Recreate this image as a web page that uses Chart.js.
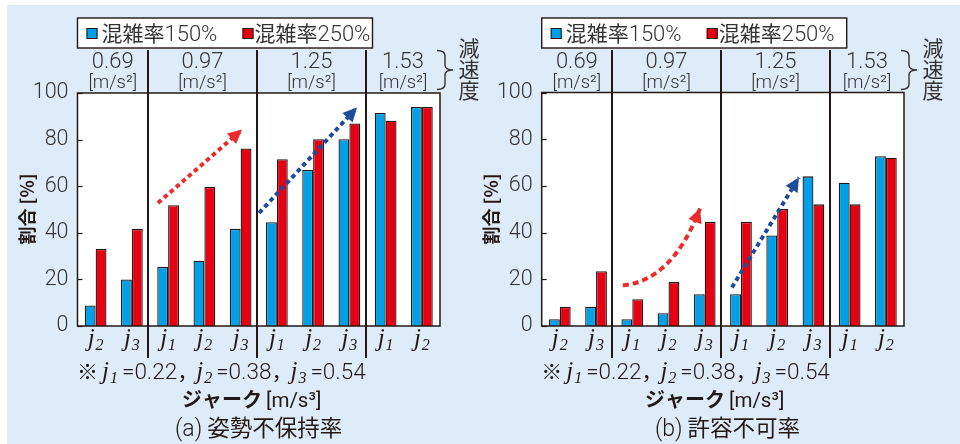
<!DOCTYPE html>
<html>
<head>
<meta charset="utf-8">
<script src="https://cdn.jsdelivr.net/npm/chart.js@4.4.1/dist/chart.umd.min.js"></script>
<style>
  html, body { margin: 0; padding: 0; background: #ffffff; }
  #wrap { position: relative; width: 960px; height: 444px; overflow: hidden; }
  #panel { position: absolute; left: 7px; top: 5px; right: 0; bottom: 0; background: #deebf8; }
  canvas { position: absolute; top: 0; }
</style>
</head>
<body>
<div id="wrap">
  <div id="panel"></div>
  <canvas id="chartA" width="480" height="444" style="left:0"></canvas>
  <canvas id="chartB" width="480" height="444" style="left:480px"></canvas>
</div>
<script>
// ---- data ----
const jerkSubscripts = [2, 3, 1, 2, 3, 1, 2, 3, 1, 2];
const categories = jerkSubscripts.map(n => 'j' + n);
const decelValues = ['0.69', '0.97', '1.25', '1.53'];
const decelGroupSizes = [2, 3, 3, 2];
const jerkDefs = [['1', '0.22'], ['2', '0.38'], ['3', '0.54']];
const seriesNames = ['混雑率150%', '混雑率250%'];
const yTickValues = [0, 20, 40, 60, 80, 100];

// (a) 姿勢不保持率 [%]
const postureLoss150 = [8.8, 20.0, 25.3, 28.0, 41.7, 44.5, 67.0, 80.2, 91.4, 94.0];
const postureLoss250 = [33.1, 41.7, 51.8, 59.7, 76.2, 71.6, 80.2, 86.9, 88.1, 94.0];
// (b) 許容不可率 [%]
const rejection150 = [2.9, 8.2, 2.9, 5.5, 13.6, 13.6, 38.8, 64.1, 61.4, 72.7];
const rejection250 = [8.2, 23.5, 11.5, 18.8, 44.6, 44.6, 50.1, 52.1, 52.1, 72.1];

// ---- style ----
const SANS = '"Roboto", "Liberation Sans", sans-serif';
const CJK = '"Noto Sans CJK JP", sans-serif';
const SERIF = '"Liberation Serif", "DejaVu Serif", serif';
const INK = '#231815';
const BLUE = '#00a0e9';
const RED = '#e60012';
const Y_AXIS_W = 50;

function text(ctx, s, x, y, font, align, color) {
  ctx.font = font;
  ctx.textAlign = align || 'left';
  ctx.textBaseline = 'alphabetic';
  ctx.fillStyle = color || INK;
  ctx.fillText(s, x, y);
  return ctx.measureText(s).width;
}

// italic j with a subscript digit; returns the drawn width
function jerkSymbol(ctx, n, x, baseY, size, centered) {
  ctx.font = `italic ${size}px ${SERIF}`;
  const wj = ctx.measureText('j').width;
  const sub = Math.round(size * 0.62);
  ctx.font = `italic ${sub}px ${SERIF}`;
  const ws = ctx.measureText(String(n)).width;
  const w = wj + ws + 1;
  const x0 = centered ? x - w / 2 : x;
  text(ctx, 'j', x0, baseY, `italic ${size}px ${SERIF}`, 'left', INK);
  text(ctx, String(n), x0 + wj + 1, baseY + 4, `italic ${sub}px ${SERIF}`, 'left', INK);
  return w;
}

function arrowHead(ctx, tip, from, color, len, half) {
  const dx = tip[0] - from[0], dy = tip[1] - from[1];
  const d = Math.hypot(dx, dy);
  const ux = dx / d, uy = dy / d;
  const bx = tip[0] - ux * len, by = tip[1] - uy * len;
  ctx.setLineDash([]);
  ctx.fillStyle = color;
  ctx.beginPath();
  ctx.moveTo(tip[0], tip[1]);
  ctx.lineTo(bx - uy * half, by + ux * half);
  ctx.lineTo(bx + uy * half, by - ux * half);
  ctx.closePath();
  ctx.fill();
}

const overlay = {
  id: 'overlay',
  beforeDatasetsDraw(chart) {
    const { ctx, chartArea: a } = chart;
    ctx.save();
    ctx.fillStyle = '#ffffff';
    ctx.fillRect(a.left, a.top, a.right - a.left, a.bottom - a.top);
    ctx.restore();
  },
  afterDatasetsDraw(chart, args, o) {
    const { ctx, chartArea: a } = chart;
    const xs = chart.scales.x, ys = chart.scales.y;
    ctx.save();

    // plot frame
    ctx.strokeStyle = INK;
    ctx.lineWidth = 1.5;
    ctx.strokeRect(a.left, a.top, a.right - a.left, a.bottom - a.top);

    // inward tick marks
    ctx.lineWidth = 1.2;
    yTickValues.forEach(v => {
      const y = Math.round(ys.getPixelForValue(v)) + 0.5;
      ctx.beginPath();
      ctx.moveTo(a.left, y);
      ctx.lineTo(a.left + 5, y);
      ctx.stroke();
    });

    // deceleration groups: dividers and labels
    const bounds = [-0.5];
    decelGroupSizes.forEach(n => bounds.push(bounds[bounds.length - 1] + n));
    const edge = i => (i === 0 || i === bounds.length - 1)
      ? xs.getPixelForValue(bounds[i])
      : Math.round(xs.getPixelForValue(bounds[i])) - 2;
    ctx.lineWidth = 2;
    for (let i = 1; i < bounds.length - 1; i++) {
      const x = edge(i);
      ctx.beginPath();
      ctx.moveTo(x, 50);
      ctx.lineTo(x, 358);
      ctx.stroke();
    }
    decelValues.forEach((v, i) => {
      const cx = (edge(i) + edge(i + 1)) / 2;
      text(ctx, v, cx, 68, `300 22px ${SANS}`, 'center', '#333');
      text(ctx, '[m/s²]', cx, 87.5, `300 18.5px ${SANS}`, 'center', '#333');
    });

    // brace and 減速度
    const r = a.right;
    ctx.strokeStyle = '#333';
    ctx.lineWidth = 1.4;
    ctx.beginPath();
    ctx.moveTo(r - 3, 50.5);
    ctx.quadraticCurveTo(r + 5, 50.5, r + 5, 56);
    ctx.lineTo(r + 5, 65);
    ctx.quadraticCurveTo(r + 5, 70, r + 13, 70);
    ctx.quadraticCurveTo(r + 5, 70, r + 5, 75);
    ctx.lineTo(r + 5, 84);
    ctx.quadraticCurveTo(r + 5, 89.5, r - 3, 89.5);
    ctx.stroke();
    ['減', '速', '度'].forEach((c, i) => {
      text(ctx, c, r + 29, 56 + i * 21, `21px ${CJK}`, 'center', '#333');
    });

    // legend box
    ctx.fillStyle = '#ffffff';
    ctx.fillRect(a.left, 18, o.legendW, 30);
    ctx.strokeStyle = INK;
    ctx.lineWidth = 1.4;
    ctx.strokeRect(a.left, 18, o.legendW, 30);
    [[BLUE, 9, 24], [RED, 165, 177]].forEach(([col, sq, tx], i) => {
      ctx.fillStyle = col;
      ctx.fillRect(a.left + sq, 28, 11, 11);
      ctx.lineWidth = 1;
      ctx.strokeStyle = INK;
      ctx.strokeRect(a.left + sq + 0.5, 28.5, 10, 10);
      ctx.font = `21px ${CJK}`;
      text(ctx, seriesNames[i].slice(0, 3), a.left + tx, 41, `21px ${CJK}`, 'left', '#333');
      text(ctx, seriesNames[i].slice(3), a.left + tx + 63, 41, `300 22px ${SANS}`, 'left', '#333');
    });

    // jerk category labels
    jerkSubscripts.forEach((n, i) => {
      jerkSymbol(ctx, n, xs.getPixelForValue(i), 346, 25, true);
    });

    // footnote: jerk values
    let fx = a.left - 0.5;
    fx += text(ctx, '※', fx, 379, `21px ${CJK}`, 'left', INK) + 4;
    jerkDefs.forEach(([n, v], i) => {
      fx += jerkSymbol(ctx, n, fx, 379, 25, false) + 4;
      fx += text(ctx, '=' + v, fx, 379, `300 22.5px ${SANS}`, 'left', INK);
      if (i < jerkDefs.length - 1) fx += text(ctx, '，', fx, 379, `21px ${CJK}`, 'left', INK) - 2;
    });

    // x-axis title
    let tx = o.xTitleX;
    tx += text(ctx, 'ジャーク', tx, 407, `bold 20px ${CJK}`, 'left', INK) + 4;
    text(ctx, '[m/s³]', tx, 407, `20.5px ${SANS}`, 'left', INK);

    // caption
    let cx = o.captionX;
    cx += text(ctx, o.captionTag, cx, 436, `300 23px ${SANS}`, 'left', INK) + 5;
    text(ctx, o.caption, cx, 436, `22.5px ${CJK}`, 'left', INK);

    // y-axis title
    ctx.save();
    ctx.translate(a.left - 51, 209);
    ctx.rotate(-Math.PI / 2);
    text(ctx, '割合 [%]', 0, 7, `bold 18px ${CJK}`, 'center', INK);
    ctx.restore();

    // trend arrows
    ctx.lineCap = 'butt';
    o.arrows.forEach(ar => {
      const p = ar.pts.map(([i, v]) => [xs.getPixelForValue(i), ys.getPixelForValue(v)]);
      ctx.strokeStyle = ar.color;
      ctx.lineWidth = 4;
      ctx.setLineDash(ar.dash);
      ctx.beginPath();
      ctx.moveTo(p[0][0], p[0][1]);
      let from;
      if (p.length === 3) {
        ctx.quadraticCurveTo(p[1][0], p[1][1], p[2][0], p[2][1]);
        from = p[1];
      } else {
        ctx.lineTo(p[1][0], p[1][1]);
        from = p[0];
      }
      ctx.stroke();
      arrowHead(ctx, p[p.length - 1], from, ar.color, 14, 7);
    });

    ctx.restore();
  }
};

function makeChart(id, s150, s250, cfg) {
  return new Chart(document.getElementById(id), {
    type: 'bar',
    data: {
      labels: categories,
      datasets: [
        { label: seriesNames[0], data: s150, backgroundColor: BLUE, borderColor: INK, borderWidth: 1.3 },
        { label: seriesNames[1], data: s250, backgroundColor: RED, borderColor: INK, borderWidth: 1.3 }
      ]
    },
    options: {
      responsive: false,
      animation: false,
      devicePixelRatio: 1,
      layout: {
        padding: {
          left: cfg.areaLeft - Y_AXIS_W,
          right: 480 - cfg.areaRight,
          top: cfg.areaTop,
          bottom: 444 - cfg.areaBottom
        }
      },
      datasets: { bar: { categoryPercentage: 0.6, barPercentage: 1.0 } },
      scales: {
        x: { display: false },
        y: {
          min: 0,
          max: 100,
          afterFit: s => { s.width = Y_AXIS_W; },
          afterBuildTicks: s => { s.ticks = yTickValues.map(v => ({ value: v })); },
          grid: { display: false, drawTicks: false },
          border: { display: false },
          ticks: { padding: 9, color: '#333', font: { family: SANS, size: 21.5, weight: '300' } }
        }
      },
      plugins: {
        legend: { display: false },
        tooltip: { enabled: false },
        overlay: cfg
      }
    },
    plugins: [overlay]
  });
}

makeChart('chartA', postureLoss150, postureLoss250, {
  areaLeft: 77.5, areaRight: 440, areaTop: 93, areaBottom: 326,
  legendW: 295, xTitleX: 182, captionX: 175,
  captionTag: '(a)', caption: '姿勢不保持率',
  arrows: [
    { color: '#ee2b2b', dash: [4.5, 3.5], pts: [[1.72, 52.8], [4.04, 84.3]] },
    { color: '#1d4c9c', dash: [4.5, 3.5], pts: [[4.51, 48.5], [7.21, 93.8]] }
  ]
});

makeChart('chartB', rejection150, rejection250, {
  areaLeft: 61.7, areaRight: 424, areaTop: 92.5, areaBottom: 326,
  legendW: 305, xTitleX: 165, captionX: 175,
  captionTag: '(b)', caption: '許容不可率',
  arrows: [
    { color: '#ee2b2b', dash: [6, 4], pts: [[1.74, 17.4], [3.11, 19.5], [3.87, 50.3]] },
    { color: '#1d4c9c', dash: [4.5, 3.5], pts: [[4.75, 16.5], [6.6, 63.6]] }
  ]
});
</script>
</body>
</html>
